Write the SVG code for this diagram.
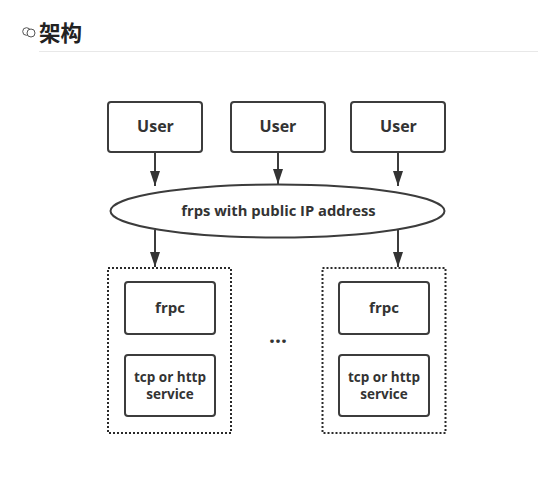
<svg xmlns="http://www.w3.org/2000/svg" width="538" height="492" viewBox="0 0 538 492">
<style>
text{font-family:"Open Sans","Noto Sans CJK SC",sans-serif;font-weight:700;fill:#333;text-anchor:middle}
.box{fill:#fff;stroke:#3c3c3c;stroke-width:2}
.dot{fill:none;stroke:#2a2a2a;stroke-width:2;stroke-dasharray:2 2}
.conn{fill:none;stroke:#3c3c3c;stroke-width:2;marker-end:url(#arrow)}
.u{font-size:16px}.s{font-size:13.500px}.f{font-size:15px}
</style>
<defs><marker id="arrow" markerUnits="userSpaceOnUse" markerWidth="16" markerHeight="10" refX="15" refY="5" orient="auto" viewBox="0 0 16 10"><path d="M0 0L15 5L0 10Z" fill="#333"/></marker></defs>
<rect width="538" height="492" fill="#fff"/>
<g id="heading">
<circle cx="26.500" cy="31.500" r="3.800" fill="none" stroke="#555" stroke-width="1"/>
<circle cx="31" cy="33" r="4" fill="#fff" stroke="#555" stroke-width="1"/>
<text x="60.500" y="41" style="font-size:21.500px;fill:#222">架构</text>
<line x1="39" y1="51.500" x2="538" y2="51.500" stroke="#e8e8e8" stroke-width="1"/>
</g>
<g id="connectors">
<path class="conn" d="M155 152V186"/>
<path class="conn" d="M278 152V184"/>
<path class="conn" d="M398 152V186"/>
<path class="conn" d="M155 230V267"/>
<path class="conn" d="M398 230V267"/>
</g>
<g id="user1"><rect class="box" x="108" y="102" width="94" height="50" rx="3"/><text class="u" x="155.500" y="132">User</text></g>
<g id="user2"><rect class="box" x="231" y="102" width="94" height="50" rx="3"/><text class="u" x="278" y="132">User</text></g>
<g id="user3"><rect class="box" x="351" y="102" width="94" height="50" rx="3"/><text class="u" x="398.500" y="132">User</text></g>
<g id="frps"><ellipse cx="277.500" cy="211" rx="167" ry="26.500" fill="none" stroke="#3c3c3c" stroke-width="2"/><text x="278.500" y="216" style="font-size:14.750px">frps with public IP address</text></g>
<g id="group-left"><rect class="dot" x="108" y="268" width="123" height="165"/></g>
<g id="group-right"><rect class="dot" x="322.500" y="268" width="123" height="165"/></g>
<g id="frpc1"><rect class="box" x="125" y="282" width="90" height="52" rx="3"/><text class="f" x="170" y="313">frpc</text></g>
<g id="service1"><rect class="box" x="125" y="355" width="90" height="61" rx="3"/><text class="s" x="170" y="382">tcp or http</text><text class="s" x="170" y="399">service</text></g>
<g id="frpc2"><rect class="box" x="339" y="282" width="90" height="52" rx="3"/><text class="f" x="384" y="313">frpc</text></g>
<g id="service2"><rect class="box" x="339" y="355" width="90" height="61" rx="3"/><text class="s" x="384" y="382">tcp or http</text><text class="s" x="384" y="399">service</text></g>
<g id="ellipsis"><text x="278" y="343" style="font-size:21px">...</text></g>
</svg>
